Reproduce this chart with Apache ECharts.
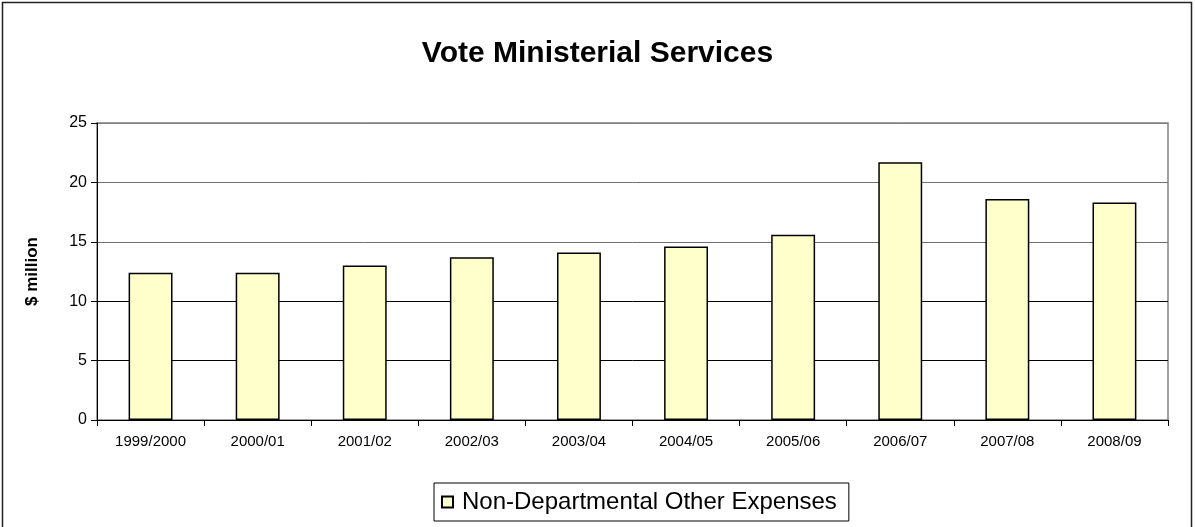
<!DOCTYPE html>
<html>
<head>
<meta charset="utf-8">
<script src="https://cdn.jsdelivr.net/npm/echarts@6/dist/echarts.min.js"></script>
<style>
html,body{margin:0;padding:0;background:#fff;}
#chart{width:1195px;height:527px;}
</style>
</head>
<body>
<div id="chart"></div>
<script>
const categories = ['1999/2000','2000/01','2001/02','2002/03','2003/04','2004/05','2005/06','2006/07','2007/08','2008/09'];
const expenses = [12.4, 12.4, 13.0, 13.7, 14.1, 14.6, 15.6, 21.7, 18.6, 18.3];
const seriesName = 'Non-Departmental Other Expenses';
const chartTitle = 'Vote Ministerial Services';
const yAxisName = '$ million';

const FONT = '"Liberation Sans", Arial, sans-serif';
const chart = echarts.init(document.getElementById('chart'), null, {renderer: 'canvas'});
chart.setOption({
  animation: false,
  backgroundColor: '#fff',
  textStyle: {fontFamily: FONT},
  title: {
    text: chartTitle,
    left: 'center',
    top: 34,
    textStyle: {fontFamily: FONT, fontSize: 30, fontWeight: 'bold', color: '#000'}
  },
  graphic: [{
    type: 'rect',
    shape: {x: 2.5, y: 2.5, width: 1189, height: 560},
    style: {fill: 'none', stroke: '#222', lineWidth: 1.5},
    silent: true,
    z: -1
  }],
  grid: {
    left: 97, right: 27, top: 123, bottom: 107,
    show: true, borderColor: '#808080', borderWidth: 1.5, backgroundColor: 'transparent'
  },
  legend: {
    data: [seriesName],
    left: 434, top: 483,
    padding: [7, 12, 7, 7],
    itemWidth: 11, itemHeight: 11, itemGap: 0,
    icon: 'rect',
    borderColor: '#000', borderWidth: 1,
    textStyle: {fontFamily: FONT, fontSize: 24, color: '#000', padding: [0, 0, 0, 4]}
  },
  xAxis: {
    type: 'category',
    data: categories,
    axisLine: {lineStyle: {color: '#000', width: 1}},
    axisTick: {show: true, length: 6, lineStyle: {color: '#000'}},
    axisLabel: {fontFamily: FONT, fontSize: 15, color: '#000', margin: 14, interval: 0}
  },
  yAxis: {
    type: 'value',
    min: 0, max: 25, interval: 5,
    name: yAxisName,
    nameLocation: 'middle',
    nameGap: 56,
    nameRotate: 90,
    nameTextStyle: {fontFamily: FONT, fontSize: 17, fontWeight: 'bold', color: '#000'},
    axisLine: {show: true, lineStyle: {color: '#000', width: 1}},
    axisTick: {show: true, length: 6, lineStyle: {color: '#000'}},
    axisLabel: {fontFamily: FONT, fontSize: 16, color: '#000', margin: 10},
    splitLine: {show: true, lineStyle: {color: ['#000', '#000', '#000', '#707070', '#707070', '#808080'], width: 1}}
  },
  series: [{
    name: seriesName,
    type: 'bar',
    data: expenses,
    barWidth: '41%',
    itemStyle: {color: '#FFFFCC', borderColor: '#000', borderWidth: 1.5}
  }]
});
</script>
</body>
</html>
